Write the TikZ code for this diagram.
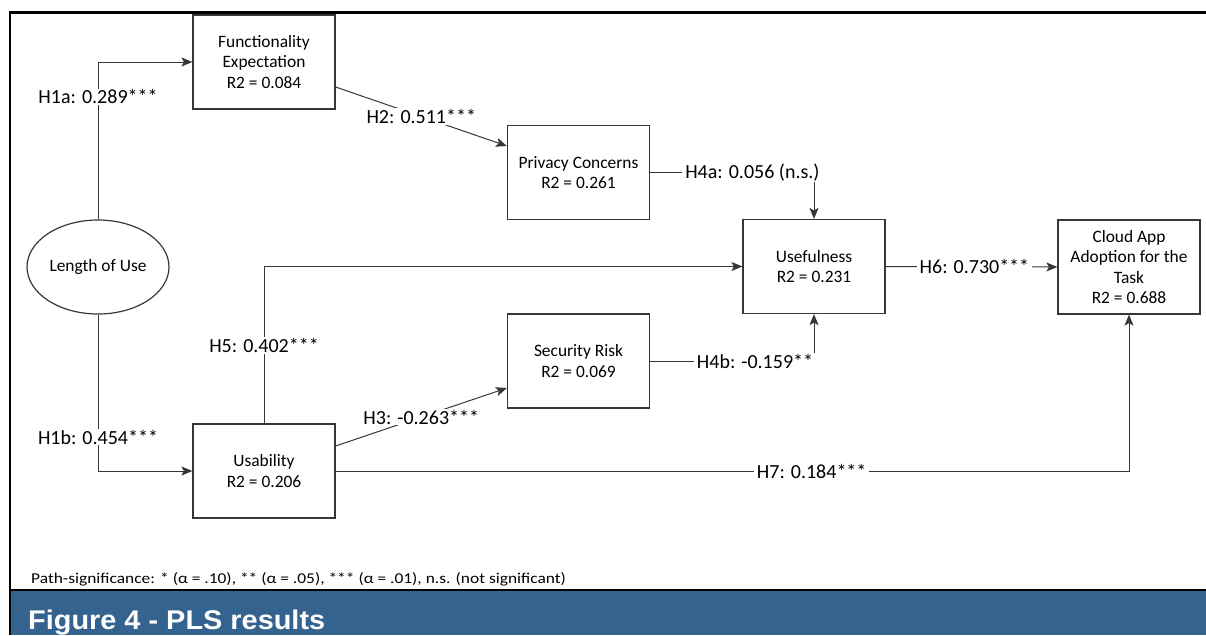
\documentclass[tikz,border=0pt]{standalone}
\usepackage{fontspec}
\setmainfont{Carlito}
\newfontfamily\titlefont{Liberation Sans}
\usetikzlibrary{arrows.meta,calc,shapes.geometric}
\definecolor{barblue}{RGB}{53,99,144}
\definecolor{linegray}{RGB}{55,55,55}
\begin{document}
\begin{tikzpicture}[x=1pt,y=-1pt,
  box/.style={draw=linegray, line width=1.2pt, minimum width=142pt, minimum height=94pt,
    align=center, inner sep=0pt, font=\fontsize{17.4}{20.5}\selectfont},
  oval/.style={draw=linegray, line width=1.2pt, ellipse, minimum width=142pt, minimum height=94pt,
    inner sep=0pt, font=\fontsize{17.4}{20.5}\selectfont},
  lbl/.style={fill=white, inner xsep=3pt, inner ysep=1pt, font=\fontsize{20}{24}\selectfont},
  conn/.style={draw=linegray, line width=1pt, -{Stealth[length=11pt,width=9pt,inset=2.5pt]}},
  frameline/.style={draw=black, line width=2.5pt}
]
\useasboundingbox (0,0) rectangle (1206,635);

% frame and caption bar
\fill[barblue] (10,590) rectangle (1206,635);
\draw[frameline] (1206,12.5) -- (10,12.5) -- (10,635);
\draw[frameline] (10,590) -- (1206,590);

% nodes
\node[box] (fe) at (264,62) {Functionality\\Expectation\\R2 = 0.084};
\node[box] (pc) at (578.5,172.5) {Privacy Concerns\\R2 = 0.261};
\node[box] (us) at (814,266.5) {Usefulness\\R2 = 0.231};
\node[box] (ca) at (1129,267) {Cloud App\\Adoption for the\\Task\\R2 = 0.688};
\node[box] (sr) at (578.5,361) {Security Risk\\R2 = 0.069};
\node[box] (ub) at (264,471) {Usability\\R2 = 0.206};
\node[oval] (lu) at (98,267) {Length of Use};

% connectors
\draw[conn] (lu.north) |- node[lbl, pos=0.389] {H1a: 0.289***} (fe.west);
\draw[conn] (lu.south) |- node[lbl, pos=0.392] {H1b: 0.454***} (ub.west);
\draw[conn] ($(fe.east)+(0,25)$) -- node[lbl] {H2: 0.511***} ($(pc.west)+(0,-26.5)$);
\draw[conn] ($(ub.east)+(0,-25)$) -- node[lbl] {H3: -0.263***} ($(sr.west)+(0,27)$);
\draw[conn] (pc.east) -| node[lbl, pos=0.312] {H4a: 0.056 (n.s.)} (us.north);
\draw[conn] (sr.east) -| node[lbl, pos=0.32] {H4b: -0.159**} (us.south);
\draw[conn] (ub.north) |- node[lbl, pos=0.248] {H5: 0.402***} (us.west);
\draw[conn] (us.east) -- node[lbl, pos=0.517] {H6: 0.730***} (ca.west);
\draw[conn] (ub.east) -| node[lbl, pos=0.30] {H7: 0.184***} (ca.south);

% footnote and caption
\node[anchor=base west, inner sep=0pt, font=\fontsize{15}{18}\selectfont] (note) at (31,583)
  {\scalebox{1.16}[1]{Path-significance: * (α = .10), ** (α = .05), *** (α = .01), n.s. (not significant)}};
\node[anchor=base west, inner sep=0pt, text=white, font=\titlefont\bfseries\fontsize{27}{30}\selectfont] (title) at (28,629)
  {\scalebox{1.07}[1]{Figure 4 - PLS results}};
\end{tikzpicture}
\end{document}
